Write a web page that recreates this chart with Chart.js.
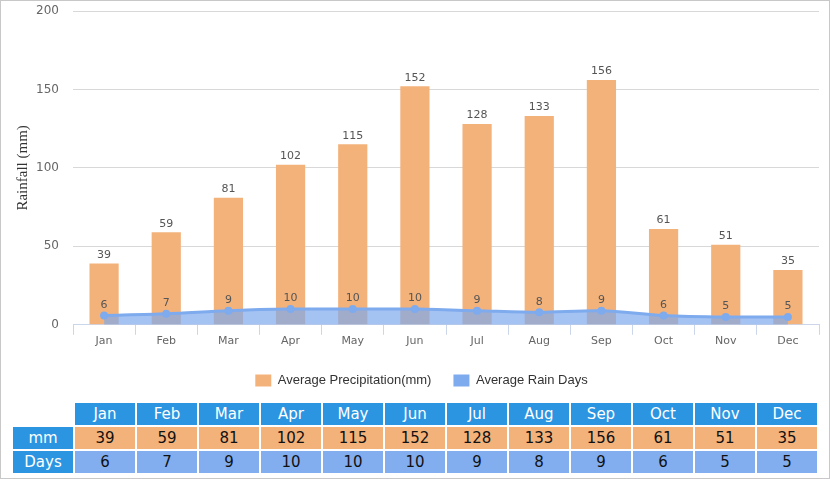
<!DOCTYPE html>
<html>
<head>
<meta charset="utf-8">
<script src="https://cdn.jsdelivr.net/npm/chart.js@4"></script>
<style>
  html, body { margin: 0; padding: 0; background: #fff; }
  #wrap { position: relative; width: 830px; height: 479px; overflow: hidden; }
  #frame { position: absolute; left: 0; top: 0; width: 830px; height: 479px; box-sizing: border-box;
           border: 1px solid #c8c8c8; pointer-events: none; }
  #chartBox { position: absolute; left: 0; top: 0; width: 830px; height: 397px; }
  #dataTable { position: absolute; left: 11px; top: 401px; border-collapse: separate; border-spacing: 2px;
               font-family: 'DejaVu Sans', Verdana, sans-serif; font-size: 15px; }
  #dataTable td { width: 60px; height: 22px; padding: 0; text-align: center; color: #111; }
  #dataTable tr.head td { background: #2b95e1; color: #fff; }
  #dataTable tr.mm td { background: #f4b27b; }
  #dataTable tr.days td { background: #82aef0; }
  #dataTable tr td.lbl { width: 60px; background: #2b95e1; color: #fff; }
  #dataTable tr.head td.blank { background: #fff; }
</style>
</head>
<body>
<div id="wrap">
  <div id="chartBox"><canvas id="rainChart"></canvas></div>
  <table id="dataTable"></table>
  <div id="frame"></div>
</div>
<script>
const months = ['Jan', 'Feb', 'Mar', 'Apr', 'May', 'Jun', 'Jul', 'Aug', 'Sep', 'Oct', 'Nov', 'Dec'];
const precipitation = [39, 59, 81, 102, 115, 152, 128, 133, 156, 61, 51, 35];
const rainDays = [6, 7, 9, 10, 10, 10, 9, 8, 9, 6, 5, 5];
const yTicks = [0, 50, 100, 150, 200];

/* value labels above bars and points */
const valueLabels = {
    id: 'valueLabels',
    afterDatasetsDraw(chart) {
        const ctx = chart.ctx;
        ctx.save();
        ctx.font = "11px 'DejaVu Sans', Verdana, sans-serif";
        ctx.fillStyle = '#555';
        ctx.textAlign = 'center';
        ctx.textBaseline = 'bottom';
        chart.data.datasets.forEach((ds, i) => {
            const meta = chart.getDatasetMeta(i);
            meta.data.forEach((el, j) => {
                const off = ds.type === 'line' ? 5 : 3;
                ctx.fillText(ds.data[j], el.x, el.y - off);
            });
        });
        ctx.restore();
    }
};

/* nudge the legend a little right, like the original */
const legendNudge = {
    id: 'legendNudge',
    afterUpdate(chart) {
        if (chart.legend) {
            chart.legend.left += 12;
            chart.legend.right += 12;
        }
    }
};

const ctx = document.getElementById('rainChart').getContext('2d');
new Chart(ctx, {
    data: {
        labels: months,
        datasets: [{
            type: 'bar',
            label: 'Average Precipitation(mm)',
            data: precipitation,
            backgroundColor: '#f4b27b',
            borderWidth: 0,
            categoryPercentage: 1,
            barPercentage: 0.47,
            order: 2
        }, {
            type: 'line',
            label: 'Average Rain Days',
            data: rainDays,
            borderColor: '#7eaaee',
            backgroundColor: 'rgba(126, 170, 238, 0.7)',
            borderWidth: 3,
            fill: 'origin',
            tension: 0.3,
            pointRadius: 4,
            pointBackgroundColor: '#7eaaee',
            pointBorderWidth: 0,
            order: 1
        }]
    },
    options: {
        responsive: true,
        maintainAspectRatio: false,
        animation: false,
        layout: { padding: { top: 11, right: 11, left: 0, bottom: 0 } },
        plugins: {
            legend: {
                position: 'bottom',
                labels: {
                    boxWidth: 16,
                    boxHeight: 12,
                    padding: 22,
                    color: '#333',
                    font: { family: "'Liberation Sans', Arial, sans-serif", size: 13 },
                    sort: (a, b) => a.datasetIndex - b.datasetIndex,
                    generateLabels: (chart) => {
                        const items = Chart.defaults.plugins.legend.labels.generateLabels(chart);
                        items.forEach(it => {
                            it.fillStyle = chart.data.datasets[it.datasetIndex].type === 'line' ? '#7eaaee' : '#f4b27b';
                            it.lineWidth = 0;
                            it.strokeStyle = 'transparent';
                        });
                        return items;
                    }
                }
            },
            tooltip: { enabled: false }
        },
        scales: {
            x: {
                offset: true,
                afterFit: (scale) => { scale.height += 4; },
                grid: { offset: true, drawOnChartArea: false, drawTicks: true, tickLength: 10, color: '#ccd6eb' },
                border: { color: '#ccd6eb' },
                ticks: { color: '#666', padding: 0, font: { family: "'DejaVu Sans', Verdana, sans-serif", size: 11 } }
            },
            y: {
                min: 0,
                max: 200,
                afterBuildTicks: (scale) => { scale.ticks = yTicks.map(v => ({ value: v })); },
                afterFit: (scale) => {
                    scale.width = 73;
                    scale.paddingTop = 0;
                    scale.paddingBottom = 0;
                },
                grid: { color: '#d8d8d8', drawTicks: false },
                border: { display: false },
                ticks: { color: '#666', padding: 14, font: { family: "'DejaVu Sans', Verdana, sans-serif", size: 12 } },
                title: {
                    display: true,
                    text: 'Rainfall (mm)',
                    color: '#333',
                    padding: { top: 14, bottom: 0 },
                    font: { family: "'Liberation Serif', 'Times New Roman', serif", size: 15 }
                }
            }
        }
    },
    plugins: [valueLabels, legendNudge]
});

/* data table under the chart */
const table = document.getElementById('dataTable');
let html = '<tr class="head"><td class="blank"></td>' + months.map(m => '<td>' + m + '</td>').join('') + '</tr>';
html += '<tr class="mm"><td class="lbl">mm</td>' + precipitation.map(v => '<td>' + v + '</td>').join('') + '</tr>';
html += '<tr class="days"><td class="lbl">Days</td>' + rainDays.map(v => '<td>' + v + '</td>').join('') + '</tr>';
table.innerHTML = html;
</script>
</body>
</html>
